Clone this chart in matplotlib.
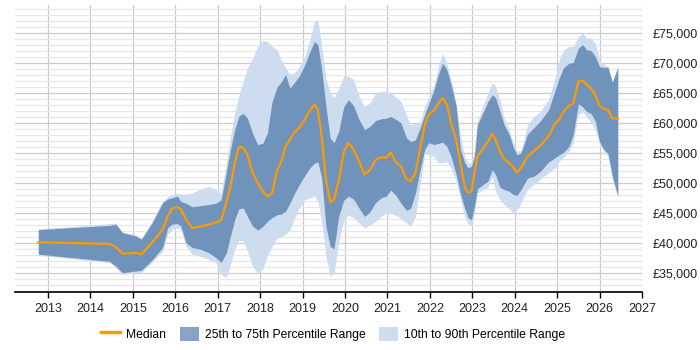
import matplotlib
matplotlib.use("Agg")
import matplotlib.pyplot as plt
from matplotlib.ticker import FuncFormatter, MultipleLocator
from matplotlib.patches import Patch
from matplotlib.lines import Line2D

plt.rcParams['font.family'] = ['Liberation Sans', 'DejaVu Sans']

dates = [2012.77, 2014.45, 2014.6, 2014.75, 2015.08, 2015.2, 2015.45, 2015.7, 2015.82, 2015.92,
         2016.05, 2016.13, 2016.25, 2016.4, 2016.6, 2016.8, 2016.96, 2017.08, 2017.2, 2017.3,
         2017.4, 2017.5, 2017.6, 2017.7, 2017.82, 2017.94, 2018.06, 2018.17, 2018.28, 2018.4,
         2018.5, 2018.6, 2018.7, 2018.8, 2018.92, 2019.05, 2019.17, 2019.28, 2019.36, 2019.45,
         2019.55, 2019.65, 2019.74, 2019.85, 2019.97, 2020.08, 2020.2, 2020.33, 2020.46, 2020.58,
         2020.72, 2020.85, 2020.97, 2021.08, 2021.2, 2021.32, 2021.45, 2021.55, 2021.66, 2021.78,
         2021.88, 2021.97, 2022.1, 2022.2, 2022.3, 2022.4, 2022.5, 2022.62, 2022.72, 2022.82,
         2022.9, 2022.98, 2023.05, 2023.12, 2023.25, 2023.37, 2023.47, 2023.55, 2023.65, 2023.75,
         2023.87, 2023.96, 2024.05, 2024.15, 2024.3, 2024.45, 2024.6, 2024.8, 2024.95, 2025.05,
         2025.15, 2025.28, 2025.38, 2025.5, 2025.6, 2025.7, 2025.8, 2025.9, 2026.0, 2026.1,
         2026.2, 2026.3, 2026.43]

median = [40100, 39800, 39300, 38200, 38300, 38100, 40000, 42200, 44400, 45700,
          46000, 45600, 43900, 42500, 42700, 43100, 43400, 43800, 46700, 49400,
          53300, 56000, 55900, 54700, 51700, 50000, 48600, 47700, 48300, 52100,
          53600, 56100, 57200, 58400, 59200, 60600, 62100, 63100, 62200, 57800,
          50600, 46800, 47200, 50300, 55100, 56700, 55600, 53600, 51400, 52100,
          53800, 54300, 54200, 55100, 53400, 52800, 50600, 50300, 51700, 56100,
          59700, 61400, 62100, 63300, 64200, 63100, 60000, 57200, 53300, 49400,
          48400, 48600, 51700, 54400, 55700, 56900, 58200, 57200, 55300, 54000,
          53300, 52700, 51700, 52500, 54400, 55300, 56200, 57800, 59900, 60600,
          61900, 62900, 63300, 66900, 67100, 66400, 65800, 64700, 62900, 62400,
          62200, 60800, 60700]

p25 = [38100, 36900, 36100, 35000, 35300, 35400, 37100, 39200, 42500, 43100,
       43200, 42800, 40000, 39200, 38900, 38300, 37500, 36700, 38300, 41100,
       43900, 45700, 45800, 44400, 42800, 42100, 42700, 43600, 44200, 44700,
       44800, 45300, 46600, 48100, 49700, 51200, 52500, 53300, 53500, 50800,
       42800, 39400, 39000, 44400, 47100, 47800, 47300, 45800, 44400, 45100,
       46700, 47500, 47800, 48800, 47900, 46600, 45400, 45800, 48300, 52500,
       55600, 56700, 56400, 56600, 56800, 56100, 54400, 51400, 48200, 45800,
       44200, 43800, 46100, 49000, 49700, 50300, 52200, 51400, 49300, 48900,
       48600, 48100, 47900, 48900, 50800, 51100, 51900, 53500, 54200, 54700,
       55100, 56100, 58100, 63200, 62700, 61900, 61600, 60300, 56900, 55600,
       54900, 51100, 47800]

p75 = [42200, 42900, 43100, 41700, 41100, 40600, 43300, 46700, 47300, 47500,
       47800, 46900, 46600, 46000, 46200, 46400, 46600, 47200, 51700, 55600,
       58900, 61200, 61600, 60800, 58300, 56400, 56600, 58300, 63600, 66000,
       66900, 68100, 65800, 66700, 67800, 69700, 71900, 73600, 73100, 68900,
       62800, 57500, 56700, 58600, 62700, 63900, 62900, 60600, 58900, 59400,
       60400, 60700, 60800, 61100, 60600, 60000, 57500, 56900, 57200, 59400,
       61400, 63100, 65600, 68100, 70000, 68900, 66400, 62800, 55600, 53400,
       52500, 52800, 54400, 59700, 61700, 63600, 64700, 64200, 62000, 59700,
       58100, 56100, 54700, 55000, 58100, 59200, 60300, 62200, 65400, 67500,
       69200, 70000, 70100, 72500, 73100, 72200, 72100, 71100, 69400, 69300,
       69300, 66800, 69200]

p10 = [37900, 36700, 35800, 34700, 35000, 35100, 36700, 38600, 41400, 42200,
       42500, 42200, 39400, 38100, 37700, 37200, 36600, 34700, 34200, 36400,
       38900, 40400, 40300, 38600, 36100, 34900, 35600, 37800, 39400, 40800,
       41000, 41400, 42100, 43900, 45800, 47200, 47500, 47800, 46900, 43600,
       37800, 34400, 34900, 40000, 43800, 44600, 44200, 43300, 42500, 42900,
       43600, 44400, 44900, 45000, 44600, 44000, 43300, 42800, 44400, 50300,
       54900, 54700, 54400, 53300, 53400, 53600, 52500, 50300, 47200, 44400,
       43200, 42900, 45000, 48300, 48800, 49300, 51100, 48600, 47200, 46400,
       45700, 45000, 45400, 46700, 48900, 49700, 50600, 51700, 52500, 53600,
       54300, 55300, 56700, 61400, 61900, 61000, 60100, 58900, 56400, 55300,
       54400, 50800, 47700]

p90 = [42300, 43200, 43300, 41800, 41300, 40700, 43600, 46900, 47700, 48000,
       48300, 48100, 48100, 48300, 49000, 49400, 48800, 48300, 53300, 57800,
       61700, 64700, 66900, 69200, 70800, 72800, 73800, 73600, 72800, 72200,
       70400, 69200, 68200, 68300, 69400, 71100, 73900, 77100, 77200, 72800,
       67500, 65000, 64200, 65700, 67900, 67800, 67300, 64400, 62700, 63300,
       65000, 65300, 65300, 65000, 64300, 63600, 61200, 59700, 59900, 60300,
       62800, 64200, 66400, 69400, 71700, 70000, 67200, 63300, 58100, 54400,
       53300, 53400, 55300, 60300, 62800, 65000, 66700, 66200, 63900, 60800,
       58900, 56700, 55300, 55400, 59700, 61100, 61900, 63900, 67500, 70600,
       72200, 72800, 72800, 74400, 75000, 74200, 74200, 73300, 70600, 69800,
       69400, 66900, 69400]

years = list(range(2013, 2028))
money_ticks = [35000, 40000, 45000, 50000, 55000, 60000, 65000, 70000, 75000]

fig = plt.figure(figsize=(7, 3.5), dpi=100)
ax = fig.add_axes([0.0214, 0.166, 0.8957, 0.8197])

light = '#cddcee'
dark = '#7093bb'
orange = '#ff9900'

ax.fill_between(dates, p10, p90, color=light, linewidth=0, zorder=2)
ax.fill_between(dates, p25, p75, color=dark, linewidth=0, zorder=3)
ax.plot(dates, median, color=orange, linewidth=1.6, zorder=4)

ax.set_xlim(2012.22, 2027)
ax.set_ylim(31800, 79700)

ax.set_xticks(years)
ax.set_xticklabels([str(y) for y in years])
ax.set_yticks(money_ticks)
ax.yaxis.set_minor_locator(MultipleLocator(1000))
ax.yaxis.set_major_formatter(FuncFormatter(lambda v, p: '£{:,.0f}'.format(v)))
ax.yaxis.tick_right()

ax.grid(True, axis='x', which='major', color='#c8c8c8', linewidth=0.9, zorder=1)
ax.grid(True, axis='y', which='major', color='#cccccc', linewidth=0.9, zorder=1)
ax.grid(True, axis='y', which='minor', color='#e6e6e6', linewidth=0.8, zorder=1)
ax.set_axisbelow(True)

for s in ['top', 'left', 'right']:
    ax.spines[s].set_visible(False)
ax.spines['bottom'].set_color('black')
ax.spines['bottom'].set_linewidth(1.2)

ax.tick_params(axis='y', which='both', length=0, labelsize=9, pad=8, colors='#222222')
ax.tick_params(axis='x', which='major', length=4, width=1, labelsize=9, pad=4, colors='black')
for lbl in ax.get_xticklabels():
    lbl.set_color('#222222')

handles = [Line2D([0], [0], color=orange, linewidth=2.5),
           Patch(facecolor='#87a3c6', edgecolor='none'),
           Patch(facecolor=light, edgecolor='none')]
labels = ['Median', '25th to 75th Percentile Range', '10th to 90th Percentile Range']
fig.legend(handles, labels, loc='center', bbox_to_anchor=(0.476, 0.046), ncol=3,
           frameon=False, fontsize=8.7, handlelength=1.6, handleheight=1.4,
           columnspacing=1.1, handletextpad=0.5)

fig.savefig('out.png', dpi=100)
